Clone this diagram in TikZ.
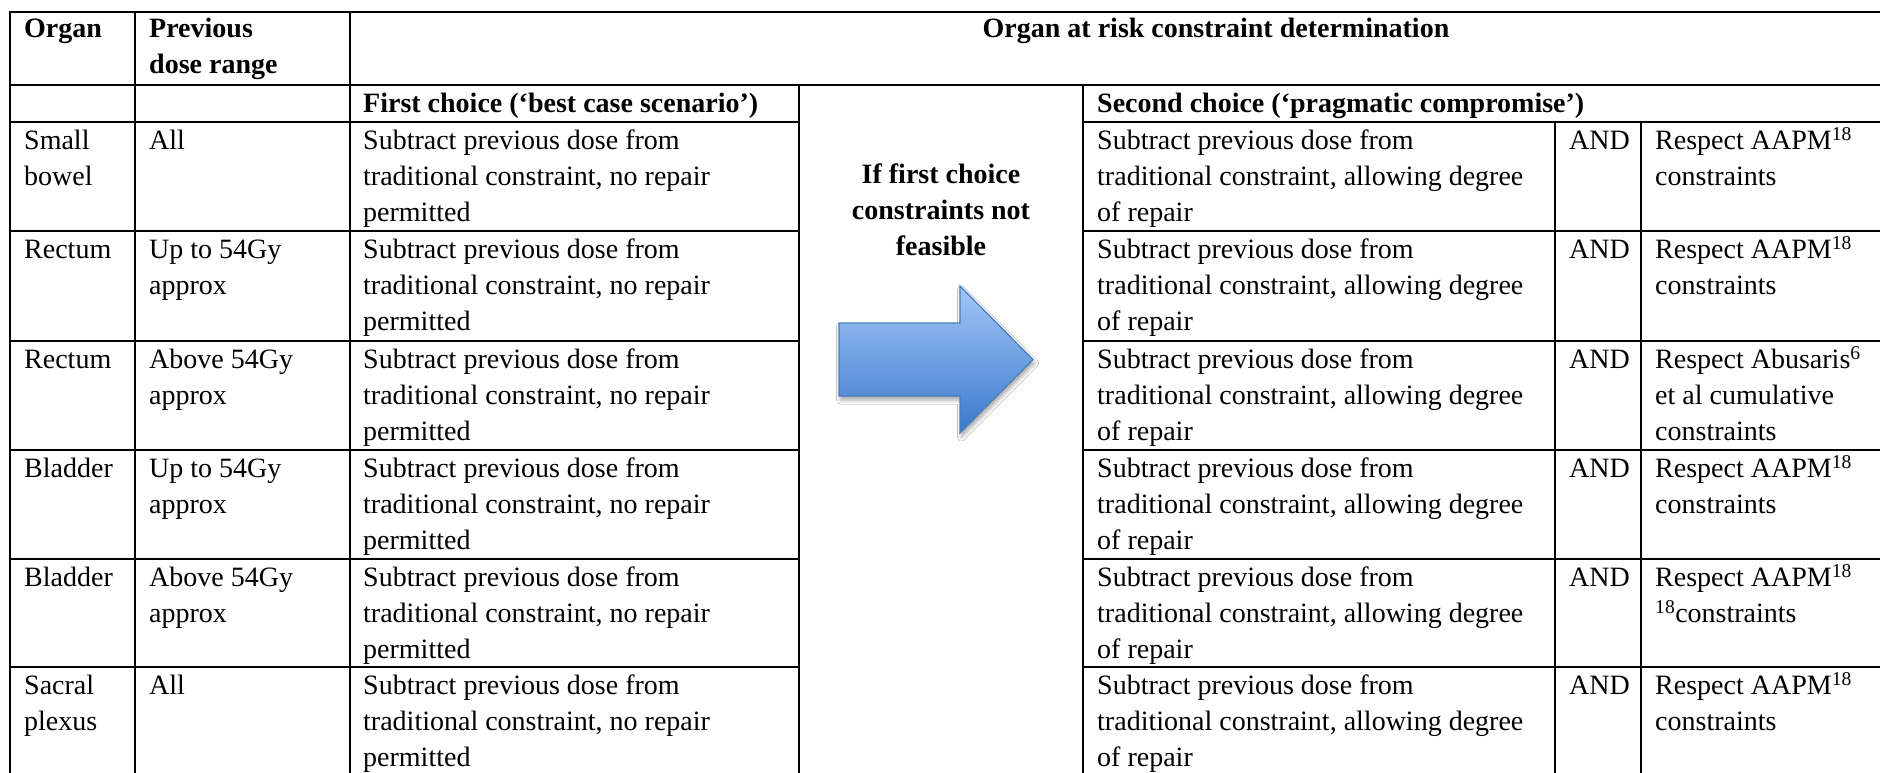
\documentclass[tikz,border=0pt]{standalone}
\usepackage{fontspec}
\setmainfont{Liberation Serif}
\usetikzlibrary{shadows.blur}
\definecolor{arrowtop}{RGB}{163,198,247}
\definecolor{arrowbot}{RGB}{58,121,205}
\definecolor{arrowedge}{RGB}{74,126,187}
\newcommand\cellfont{\fontsize{28}{36}\selectfont}
\newcommand\cellstrut{\rule{0pt}{22pt}}
\newcommand\firsttext{\cellstrut Subtract previous dose from\\traditional constraint, no repair\\permitted}
\newcommand\secondtext{\cellstrut Subtract previous dose from\\traditional constraint, allowing degree\\of repair}
\tikzset{
  tabline/.style={line width=2.7pt, line cap=rect, black},
  cell/.style={anchor=north west, inner sep=0pt, align=left, font=\cellfont},
  headcell/.style={cell, font=\cellfont\bfseries},
  arrowfill/.style={top color=arrowtop, bottom color=arrowbot, draw=arrowedge,
    line width=1.2pt, line join=miter,
    blur shadow={shadow xshift=1.5pt, shadow yshift=-4pt, shadow blur radius=4pt, shadow opacity=35}},
}
\begin{document}
\begin{tikzpicture}[x=1pt, y=-1pt]
  \fill[white] (0,0) rectangle (1880,772);
  \useasboundingbox (0,0) rectangle (1880,772);

  % header rows
  \node[headcell] (horgan) at (24,15) {\cellstrut Organ};
  \node[headcell] (hdose) at (149,15) {\cellstrut Previous\\dose range};
  \node[font=\cellfont\bfseries, anchor=base, inner sep=0pt] (hoar) at (1216,37) {Organ at risk constraint determination};
  \node[headcell] (hfirst) at (363,90) {\cellstrut First choice (‘best case scenario’)};
  \node[headcell] (hsecond) at (1097,90) {\cellstrut Second choice (‘pragmatic compromise’)};

  % body rows: organ, previous dose, first choice, second choice, AND, extra constraint
  \foreach \i/\rt/\org/\dose/\resp in {
    1/122/{Small\\bowel}/{All}/{Respect AAPM\textsuperscript{18}\\constraints},
    2/231/{Rectum}/{Up to 54Gy\\approx}/{Respect AAPM\textsuperscript{18}\\constraints},
    3/341/{Rectum}/{Above 54Gy\\approx}/{Respect Abusaris\textsuperscript{6}\\et al cumulative\\constraints},
    4/450/{Bladder}/{Up to 54Gy\\approx}/{Respect AAPM\textsuperscript{18}\\constraints},
    5/559/{Bladder}/{Above 54Gy\\approx}/{Respect AAPM\textsuperscript{18}\\\textsuperscript{18}constraints},
    6/667/{Sacral\\plexus}/{All}/{Respect AAPM\textsuperscript{18}\\constraints}}
  {
    \node[cell] (org\i)    at (24,\rt+5)   {\cellstrut\org};
    \node[cell] (dose\i)   at (149,\rt+5)  {\cellstrut\dose};
    \node[cell] (first\i)  at (363,\rt+5)  {\firsttext};
    \node[cell] (second\i) at (1097,\rt+5) {\secondtext};
    \node[cell] (and\i)    at (1569,\rt+5) {\cellstrut AND};
    \node[cell] (resp\i)   at (1655,\rt+5) {\cellstrut\resp};
  }

  % condition text and arrow in the merged middle cell
  \node[headcell, anchor=north, align=center] (cond) at (941,161)
    {\cellstrut If first choice\\constraints not\\feasible};
  \path[arrowfill] (839,323) coordinate (arrowtail)
    -- (960,323) -- (960,286) -- (1033,359.5) coordinate (arrowtip)
    -- (960,433) -- (960,396) -- (839,396) -- cycle;

  % table rules
  \draw[tabline] (10,12) -- (1880,12);
  \draw[tabline] (10,85) -- (1880,85);
  \foreach \y in {122,231,341,450,559,667} {
    \draw[tabline] (10,\y) -- (799,\y);
    \draw[tabline] (1083,\y) -- (1880,\y);
  }
  \foreach \x in {10,135,350} \draw[tabline] (\x,12) -- (\x,772);
  \foreach \x in {799,1083} \draw[tabline] (\x,85) -- (\x,772);
  \foreach \x in {1555,1641} \draw[tabline] (\x,122) -- (\x,772);
\end{tikzpicture}
\end{document}
